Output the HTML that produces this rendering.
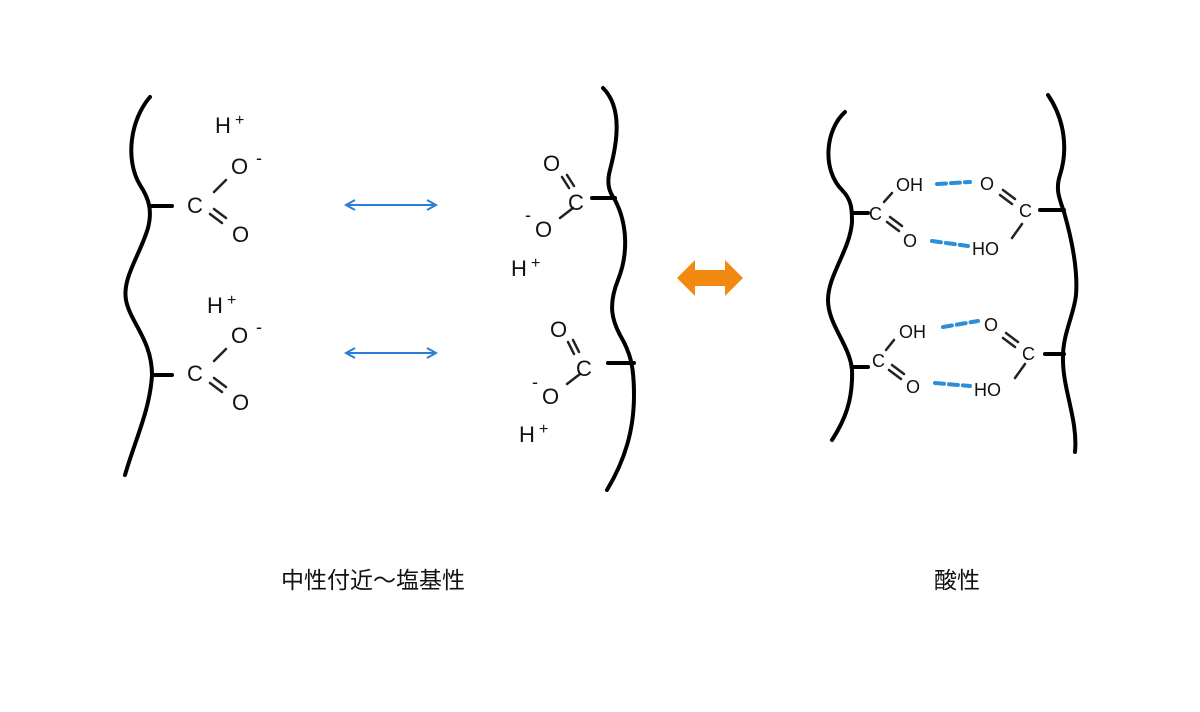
<!DOCTYPE html>
<html><head><meta charset="utf-8"><style>
html,body{margin:0;padding:0;background:#fff;}
svg{display:block;}
text{font-family:"Liberation Sans","Noto Sans CJK JP",sans-serif;fill:#111;}
</style></head><body>
<svg width="1200" height="712" viewBox="0 0 1200 712" xmlns="http://www.w3.org/2000/svg">
<defs>
<marker id="ah" markerWidth="12" markerHeight="12" refX="10" refY="6" orient="auto-start-reverse" markerUnits="userSpaceOnUse">
<path d="M1,1 L10,6 L1,11" fill="none" stroke="#2a7fd4" stroke-width="2"/>
</marker>
</defs>
<g fill="none" stroke="#000" stroke-width="4" stroke-linecap="round">
<!-- left chain -->
<path d="M150,97 C130,120 125,160 140,185 C150,200 152,212 148,228 C140,255 122,278 126,300 C130,322 152,340 152,375 C150,410 135,440 125,475"/>
<path d="M150,206 L172,206 M152,375 L172,375"/>
<!-- middle chain -->
<path d="M603,88 C625,110 615,150 610,170 C606,185 610,193 615,200 C628,225 628,255 618,280 C608,305 612,320 620,335 C630,352 634,365 634,395 C634,430 625,460 607,490"/>
<path d="M592,198 L615,198 M608,363 L634,363"/>
<!-- right left chain -->
<path d="M845,112 C825,130 822,170 842,190 C852,200 852,210 852,222 C850,250 828,275 828,300 C828,325 850,345 852,370 C853,400 845,420 832,440"/>
<path d="M852,213 L868,213 M852,367 L868,367"/>
<!-- right right chain -->
<path d="M1048,95 C1065,120 1068,150 1060,175 C1055,190 1060,200 1064,212 C1072,240 1078,270 1076,295 C1074,315 1062,335 1063,360 C1063,390 1078,420 1075,452"/>
<path d="M1040,210 L1064,210 M1045,354 L1064,354"/>
</g>
<g stroke="#222" stroke-width="2.5" stroke-linecap="round">
<line x1="214" y1="192" x2="226" y2="180"/>
<line x1="210" y1="214" x2="222" y2="223"/><line x1="214" y1="209" x2="226" y2="218"/>
<line x1="214" y1="361" x2="226" y2="349"/>
<line x1="210" y1="383" x2="222" y2="392"/><line x1="214" y1="378" x2="226" y2="387"/>
<!-- middle -->
<line x1="560" y1="218" x2="573" y2="208"/>
<line x1="562" y1="177" x2="569" y2="188"/><line x1="567" y1="175" x2="574" y2="186"/>
<line x1="567" y1="384" x2="580" y2="374"/>
<line x1="568" y1="342" x2="574" y2="354"/><line x1="573" y1="340" x2="579" y2="352"/>
<!-- right -->
<line x1="884" y1="202" x2="892" y2="193"/>
<line x1="887" y1="222" x2="899" y2="231"/><line x1="890" y1="217" x2="902" y2="226"/>
<line x1="1003" y1="190" x2="1015" y2="199"/><line x1="1000" y1="195" x2="1012" y2="204"/>
<line x1="1022" y1="224" x2="1012" y2="238"/>
<line x1="886" y1="350" x2="894" y2="340"/>
<line x1="889" y1="370" x2="901" y2="379"/><line x1="892" y1="365" x2="904" y2="374"/>
<line x1="1006" y1="333" x2="1018" y2="342"/><line x1="1003" y1="338" x2="1015" y2="347"/>
<line x1="1025" y1="364" x2="1015" y2="378"/>
</g>
<g font-size="22">
<text x="215" y="133">H</text><text x="235" y="125" font-size="16">+</text>
<text x="231" y="174">O</text><text x="256" y="164" font-size="18">-</text>
<text x="187" y="213">C</text>
<text x="232" y="242">O</text>
<text x="207" y="313">H</text><text x="227" y="305" font-size="16">+</text>
<text x="231" y="343">O</text><text x="256" y="333" font-size="18">-</text>
<text x="187" y="381">C</text>
<text x="232" y="410">O</text>
<!-- middle -->
<text x="543" y="171">O</text>
<text x="568" y="210">C</text>
<text x="535" y="237">O</text><text x="525" y="221" font-size="18">-</text>
<text x="511" y="276">H</text><text x="531" y="268" font-size="16">+</text>
<text x="550" y="337">O</text>
<text x="576" y="376">C</text>
<text x="542" y="404">O</text><text x="532" y="388" font-size="18">-</text>
<text x="519" y="442">H</text><text x="539" y="434" font-size="16">+</text>
</g>
<g font-size="18">
<text x="896" y="191">OH</text>
<text x="869" y="220">C</text>
<text x="903" y="247">O</text>
<text x="980" y="190">O</text>
<text x="1019" y="217">C</text>
<text x="972" y="255">HO</text>
<text x="899" y="338">OH</text>
<text x="872" y="367">C</text>
<text x="906" y="393">O</text>
<text x="984" y="331">O</text>
<text x="1022" y="360">C</text>
<text x="974" y="396">HO</text>
</g>
<g stroke="#2a8fd8" stroke-width="4" stroke-linecap="round" stroke-dasharray="9,5" fill="none">
<line x1="937" y1="184" x2="970" y2="182"/>
<line x1="932" y1="241" x2="968" y2="246"/>
<line x1="943" y1="327" x2="978" y2="321"/>
<line x1="935" y1="383" x2="970" y2="386"/>
</g>
<g stroke="#2a7fd4" stroke-width="2">
<line x1="346" y1="205" x2="436" y2="205" marker-start="url(#ah)" marker-end="url(#ah)"/>
<line x1="346" y1="353" x2="436" y2="353" marker-start="url(#ah)" marker-end="url(#ah)"/>
</g>
<path d="M677,278 L695,260 L695,270 L725,270 L725,260 L743,278 L725,296 L725,286 L695,286 L695,296 Z" fill="#f28a12"/>
<text x="373" y="588" font-size="23" text-anchor="middle">中性付近〜塩基性</text>
<text x="957" y="588" font-size="23" text-anchor="middle">酸性</text>
</svg>
</body></html>
